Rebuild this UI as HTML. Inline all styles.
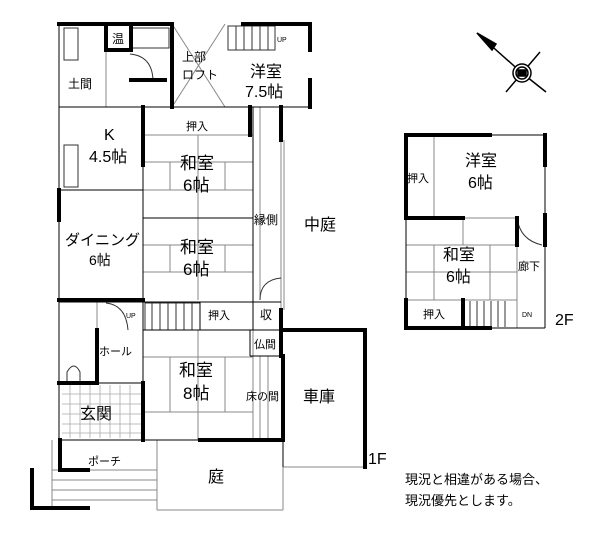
<!DOCTYPE html>
<html><head><meta charset="utf-8"><style>
html,body{margin:0;padding:0;background:#fff;}
svg{display:block;}
text{font-family:"Liberation Sans","Noto Sans CJK JP",sans-serif;fill:#000;}
</style></head><body>
<svg width="600" height="534" viewBox="0 0 600 534" xmlns="http://www.w3.org/2000/svg">
<g fill="none" stroke="#000">
<g stroke="#888" stroke-width="1">
<line x1="106" y1="24" x2="106" y2="107"/>
<line x1="172" y1="24" x2="225" y2="107"/>
<line x1="225" y1="24" x2="172" y2="107"/>
<line x1="143" y1="190" x2="143" y2="300"/>
<line x1="260" y1="107" x2="260" y2="300"/>
<line x1="143" y1="135" x2="253" y2="135"/>
<line x1="143" y1="162" x2="253" y2="162"/><line x1="143" y1="190" x2="253" y2="190"/>
<line x1="198" y1="135" x2="198" y2="218"/><line x1="170" y1="162" x2="170" y2="190"/><line x1="225" y1="162" x2="225" y2="190"/>
<line x1="143" y1="245" x2="253" y2="245"/><line x1="143" y1="272" x2="253" y2="272"/>
<line x1="198" y1="218" x2="198" y2="300"/><line x1="170" y1="245" x2="170" y2="272"/><line x1="225" y1="245" x2="225" y2="272"/>
<line x1="143" y1="357" x2="253" y2="357"/><line x1="143" y1="412" x2="253" y2="412"/>
<line x1="198" y1="330" x2="198" y2="440"/><line x1="170" y1="357" x2="170" y2="412"/><line x1="225" y1="357" x2="225" y2="412"/>
<line x1="253" y1="330" x2="253" y2="440"/><line x1="260" y1="356" x2="260" y2="440"/><line x1="268" y1="356" x2="268" y2="440"/>
<line x1="97" y1="302" x2="97" y2="383"/>
<line x1="52" y1="440" x2="52" y2="510"/>
<line x1="52" y1="480" x2="157" y2="480"/><line x1="52" y1="490" x2="157" y2="490"/><line x1="52" y1="500" x2="157" y2="500"/>
<line x1="52" y1="470" x2="157" y2="470"/>
<line x1="157" y1="440" x2="157" y2="510"/><line x1="157" y1="510" x2="283" y2="510"/>
<line x1="283" y1="440" x2="283" y2="510"/>
<line x1="283" y1="467" x2="365" y2="467"/>
<line x1="281" y1="140" x2="281" y2="310"/><line x1="284" y1="140" x2="284" y2="310"/>
<line x1="434" y1="135" x2="434" y2="218"/>
<line x1="406" y1="245" x2="517" y2="245"/><line x1="406" y1="272" x2="517" y2="272"/>
<line x1="434" y1="245" x2="434" y2="300"/><line x1="463" y1="218" x2="463" y2="245"/><line x1="490" y1="245" x2="490" y2="300"/>
<line x1="406" y1="300" x2="517" y2="300"/><line x1="517" y1="245" x2="517" y2="328"/>
<line x1="463" y1="218" x2="517" y2="218"/>
</g>
<g stroke="#aaa" stroke-width="0.8">
<line x1="70" y1="385" x2="70" y2="438"/><line x1="80" y1="385" x2="80" y2="438"/><line x1="90" y1="385" x2="90" y2="438"/><line x1="100" y1="385" x2="100" y2="438"/><line x1="110" y1="385" x2="110" y2="438"/><line x1="120" y1="385" x2="120" y2="438"/><line x1="130" y1="385" x2="130" y2="438"/>
<line x1="62" y1="394" x2="141" y2="394"/><line x1="62" y1="404" x2="141" y2="404"/><line x1="62" y1="414" x2="141" y2="414"/><line x1="62" y1="424" x2="141" y2="424"/><line x1="62" y1="433" x2="141" y2="433"/>
</g>
<g stroke="#333" stroke-width="1">
<rect x="228" y="26" width="47" height="24"/>
<line x1="236" y1="26" x2="236" y2="50"/><line x1="244" y1="26" x2="244" y2="50"/><line x1="252" y1="26" x2="252" y2="50"/><line x1="260" y1="26" x2="260" y2="50"/><line x1="268" y1="26" x2="268" y2="50"/>
<rect x="145" y="303" width="55" height="27"/>
<line x1="152" y1="303" x2="152" y2="330"/><line x1="160" y1="303" x2="160" y2="330"/><line x1="168" y1="303" x2="168" y2="330"/><line x1="176" y1="303" x2="176" y2="330"/><line x1="184" y1="303" x2="184" y2="330"/><line x1="192" y1="303" x2="192" y2="330"/>
<line x1="470" y1="301" x2="470" y2="327"/><line x1="477" y1="301" x2="477" y2="327"/><line x1="484" y1="301" x2="484" y2="327"/><line x1="491" y1="301" x2="491" y2="327"/><line x1="498" y1="301" x2="498" y2="327"/><line x1="505" y1="301" x2="505" y2="327"/>
<rect x="64" y="28" width="14" height="32"/><rect x="131" y="28" width="38" height="20"/>
<rect x="64" y="145" width="14" height="42"/>
<path d="M67 383 L67 372 Q74 360 80 372 L80 383"/>
<path d="M106 303 Q126 305 128 330"/><path d="M130 54 Q152 56 153 80"/>
<path d="M260 300 Q260 280 281 278"/><path d="M517 218 Q520 240 542 245"/>
</g>
<g stroke="#000" stroke-width="1">
<line x1="59" y1="107" x2="310" y2="107"/><line x1="59" y1="190" x2="143" y2="190"/>
<line x1="59" y1="302" x2="281" y2="302"/><line x1="143" y1="330" x2="283" y2="330"/>
<line x1="143" y1="218" x2="253" y2="218"/><line x1="253" y1="107" x2="253" y2="330"/>
<line x1="200" y1="302" x2="200" y2="330"/><line x1="250" y1="330" x2="250" y2="356"/><line x1="250" y1="356" x2="283" y2="356"/>
<line x1="59" y1="440" x2="283" y2="440"/><line x1="143" y1="107" x2="143" y2="440"/>
<line x1="59" y1="383" x2="143" y2="383"/><line x1="59" y1="24" x2="59" y2="470"/>
<line x1="406" y1="135" x2="545" y2="135"/><line x1="545" y1="135" x2="545" y2="328"/><line x1="406" y1="328" x2="545" y2="328"/>
<line x1="406" y1="135" x2="406" y2="328"/>
<line x1="283" y1="440" x2="283" y2="467"/>
</g>
<g stroke="#000" stroke-width="4" stroke-linecap="square">
<line x1="59" y1="24" x2="172" y2="24"/><line x1="243" y1="24" x2="310" y2="24"/>
<line x1="310" y1="24" x2="310" y2="50"/><line x1="310" y1="80" x2="310" y2="107"/>
<line x1="106" y1="24" x2="106" y2="50"/><line x1="106" y1="50" x2="131" y2="50"/><line x1="131" y1="24" x2="131" y2="50"/>
<line x1="131" y1="80" x2="165" y2="80"/><line x1="172" y1="24" x2="172" y2="107"/>
<line x1="143" y1="107" x2="143" y2="165"/><line x1="250" y1="107" x2="250" y2="135"/>
<line x1="281" y1="107" x2="281" y2="140"/><line x1="281" y1="310" x2="281" y2="356"/>
<line x1="283" y1="330" x2="365" y2="330"/><line x1="365" y1="330" x2="365" y2="467"/>
<line x1="283" y1="356" x2="283" y2="440"/>
<line x1="59" y1="300" x2="143" y2="300"/><line x1="59" y1="190" x2="59" y2="220"/>
<line x1="97" y1="330" x2="97" y2="383"/><line x1="59" y1="383" x2="97" y2="383"/>
<line x1="143" y1="383" x2="143" y2="440"/>
<line x1="60" y1="440" x2="60" y2="470"/><line x1="60" y1="470" x2="88" y2="470"/>
<line x1="32" y1="470" x2="32" y2="508"/><line x1="32" y1="508" x2="88" y2="508"/>
<line x1="200" y1="440" x2="283" y2="440"/>
<line x1="406" y1="135" x2="490" y2="135"/><line x1="406" y1="135" x2="406" y2="218"/>
<line x1="406" y1="218" x2="463" y2="218"/><line x1="517" y1="218" x2="517" y2="245"/>
<line x1="545" y1="135" x2="545" y2="165"/><line x1="545" y1="215" x2="545" y2="245"/>
<line x1="406" y1="328" x2="490" y2="328"/><line x1="463" y1="300" x2="463" y2="328"/>
<line x1="406" y1="300" x2="406" y2="328"/>
</g>
<g stroke="#000" stroke-width="1.5">
<line x1="477" y1="33" x2="522" y2="73"/><line x1="506" y1="92" x2="540" y2="52"/><line x1="522" y1="73" x2="546" y2="92"/>
<polygon points="477,33 496,44 492,50" fill="#000"/>
<circle cx="522" cy="73" r="9" fill="#fff"/><circle cx="522" cy="73" r="6"/><rect x="518" y="70" width="8" height="6" fill="#000"/>
</g>
</g>
<g font-size="14">
<text x="182" y="61" font-size="12">上部</text><text x="182" y="79" font-size="12">ロフト</text>
<text x="250" y="77" font-size="16">洋室</text><text x="245" y="97" font-size="16">7.5帖</text>
<text x="68" y="88" font-size="12">土間</text><text x="112" y="43" font-size="12">温</text>
<text x="277" y="42" font-size="7">UP</text>
<text x="186" y="130" font-size="11">押入</text>
<text x="104" y="140" font-size="16">K</text><text x="89" y="162" font-size="16">4.5帖</text>
<text x="180" y="169" font-size="17">和室</text><text x="183" y="191" font-size="17">6帖</text>
<text x="254" y="224" font-size="12">縁側</text><text x="304" y="230" font-size="16">中庭</text>
<text x="65" y="245" font-size="15">ダイニング</text><text x="89" y="265" font-size="14">6帖</text>
<text x="180" y="253" font-size="17">和室</text><text x="183" y="275" font-size="17">6帖</text>
<text x="126" y="318" font-size="7">UP</text><text x="208" y="319" font-size="11">押入</text><text x="260" y="319" font-size="12">収</text>
<text x="254" y="348" font-size="11">仏間</text><text x="99" y="355" font-size="11">ホール</text>
<text x="179" y="376" font-size="17">和室</text><text x="183" y="399" font-size="17">8帖</text>
<text x="246" y="400" font-size="11">床の間</text><text x="303" y="402" font-size="16">車庫</text>
<text x="80" y="419" font-size="16">玄関</text><text x="88" y="465" font-size="11">ポーチ</text>
<text x="208" y="482" font-size="16">庭</text><text x="368" y="464" font-size="16">1F</text>
<text x="465" y="166" font-size="16">洋室</text><text x="468" y="188" font-size="16">6帖</text>
<text x="407" y="182" font-size="11">押入</text>
<text x="443" y="260" font-size="16">和室</text><text x="446" y="282" font-size="16">6帖</text>
<text x="518" y="270" font-size="11">廊下</text><text x="423" y="318" font-size="11">押入</text>
<text x="522" y="317" font-size="7">DN</text><text x="555" y="325" font-size="16">2F</text>
<text x="405" y="484" font-size="13">現況と相違がある場合、</text>
<text x="405" y="505" font-size="13">現況優先とします。</text>
</g>
</svg>
</body></html>
